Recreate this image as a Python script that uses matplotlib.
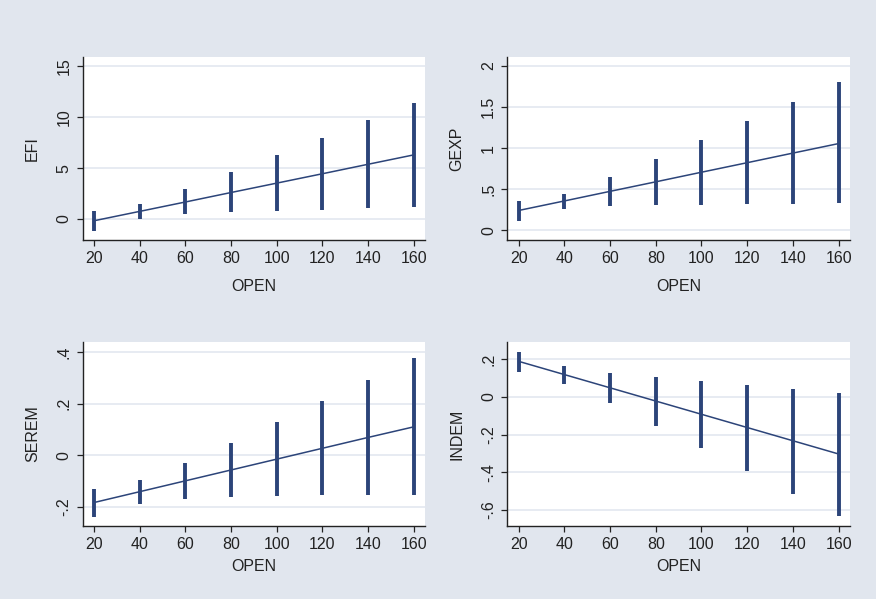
import matplotlib
matplotlib.use("Agg")
import matplotlib.pyplot as plt

plt.rcParams['font.family'] = ['Liberation Sans', 'DejaVu Sans']

open_x = [20, 40, 60, 80, 100, 120, 140, 160]

# EFI
efi_fit = [-0.17, 0.75, 1.67, 2.60, 3.52, 4.44, 5.37, 6.29]
efi_lo = [-1.14, 0.00, 0.46, 0.65, 0.78, 0.91, 1.05, 1.15]
efi_hi = [0.78, 1.47, 2.91, 4.58, 6.24, 7.97, 9.67, 11.40]
efi_ticks = [0, 5, 10, 15]
efi_labels = ['0', '5', '10', '15']

# GEXP
gexp_fit = [0.240, 0.356, 0.473, 0.589, 0.706, 0.822, 0.939, 1.055]
gexp_lo = [0.117, 0.260, 0.292, 0.308, 0.312, 0.317, 0.320, 0.329]
gexp_hi = [0.357, 0.446, 0.645, 0.868, 1.100, 1.331, 1.563, 1.800]
gexp_ticks = [0, 0.5, 1, 1.5, 2]
gexp_labels = ['0', '.5', '1', '1.5', '2']

# SEREM
serem_fit = [-0.183, -0.141, -0.099, -0.057, -0.015, 0.027, 0.069, 0.110]
serem_lo = [-0.238, -0.187, -0.169, -0.160, -0.156, -0.155, -0.154, -0.154]
serem_hi = [-0.130, -0.097, -0.031, 0.046, 0.128, 0.211, 0.291, 0.375]
serem_ticks = [-0.2, 0, 0.2, 0.4]
serem_labels = ['-.2', '0', '.2', '.4']

# INDEM
indem_fit = [0.187, 0.117, 0.047, -0.023, -0.093, -0.163, -0.233, -0.303]
indem_lo = [0.132, 0.069, -0.033, -0.153, -0.271, -0.391, -0.515, -0.633]
indem_hi = [0.238, 0.161, 0.124, 0.103, 0.081, 0.060, 0.041, 0.021]
indem_ticks = [-0.6, -0.4, -0.2, 0, 0.2]
indem_labels = ['-.6', '-.4', '-.2', '0', '.2']

bg = '#e1e6ee'
navy = '#2c4479'
grid_c = '#e3e8f0'
ink = '#222222'
fs = 11.5

fig = plt.figure(figsize=(8.76, 5.99), dpi=100)
fig.patch.set_facecolor(bg)

W, H = 876, 599
panels = [
	# name, fit, lo, hi, ticks, labels, ylim, (left, top, right, bottom px), xlabelpad
	('EFI', efi_fit, efi_lo, efi_hi, efi_ticks, efi_labels, (-2.06, 15.9), (82.7, 57, 425, 240), 9),
	('GEXP', gexp_fit, gexp_lo, gexp_hi, gexp_ticks, gexp_labels, (-0.12, 2.11), (507.3, 57, 850, 240), 9),
	('SEREM', serem_fit, serem_lo, serem_hi, serem_ticks, serem_labels, (-0.274, 0.44), (82.7, 341.7, 425, 526), 5),
	('INDEM', indem_fit, indem_lo, indem_hi, indem_ticks, indem_labels, (-0.684, 0.291), (507.3, 341.7, 850, 526), 5),
]

for name, fit, lo, hi, ticks, labels, ylim, box, xpad in panels:
	l, t, r, b = box
	ax = fig.add_axes([l / W, 1 - b / H, (r - l) / W, (b - t) / H])
	ax.set_facecolor('white')
	ax.vlines(open_x, lo, hi, color=navy, linewidth=2.8, zorder=3)
	ax.plot(open_x, fit, color=navy, linewidth=1.1, zorder=4)
	ax.set_xlim(15, 165)
	ax.set_ylim(*ylim)
	ax.set_xticks(open_x)
	ax.set_yticks(ticks)
	ax.set_yticklabels(labels, rotation=90, va='center')
	for tk in ticks:
		ax.axhline(tk, color=grid_c, linewidth=1.2, zorder=1)
	for s in ['top', 'right']:
		ax.spines[s].set_visible(False)
	for s in ['left', 'bottom']:
		ax.spines[s].set_color(ink)
		ax.spines[s].set_linewidth(1.0)
	ax.tick_params(direction='out', length=4.5, width=0.9, color=ink,
		labelsize=fs, labelcolor=ink, pad=3.5)
	ax.set_xlabel('OPEN', fontsize=fs, color=ink, labelpad=xpad)
	ax.set_ylabel(name, fontsize=fs, color=ink, labelpad=12)

fig.savefig('out.png', dpi=100, facecolor=bg)
